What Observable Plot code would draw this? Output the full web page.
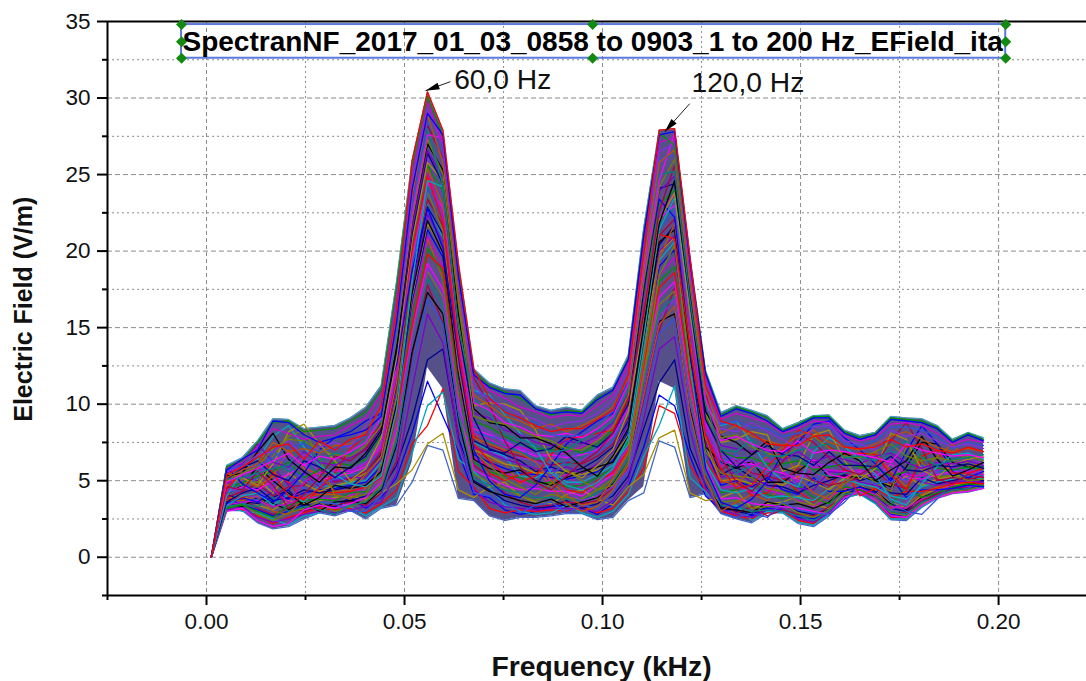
<!DOCTYPE html>
<html>
<head>
<meta charset="utf-8">
<style>html,body{margin:0;padding:0;background:#fff}</style>
<script src="https://cdn.jsdelivr.net/npm/d3@7"></script>
<script src="https://cdn.jsdelivr.net/npm/@observablehq/plot@0.6"></script>
</head>
<body>
<div id="chart"></div>
<script>
const freq=[0.0012,0.0051,0.0090,0.0129,0.0168,0.0207,0.0246,0.0285,0.0324,0.0363,0.0402,
0.0441,0.0480,0.0519,0.0558,0.0597,0.0636,0.0675,0.0714,0.0753,0.0792,
0.0831,0.0870,0.0909,0.0948,0.0987,0.1026,0.1065,0.1104,0.1143,0.1182,
0.1221,0.1260,0.1299,0.1338,0.1377,0.1416,0.1455,0.1494,0.1533,0.1572,
0.1611,0.1650,0.1689,0.1728,0.1767,0.1806,0.1845,0.1884,0.1923,0.1962];

const upperEnvelope=[0,6.0,6.5,7.6,9.05,9.0,8.4,8.5,8.6,9.1,9.8, 11.2,18.0,25.9,30.4,27.9,19.2,12.3,11.4,11.0,10.9, 9.9,9.6,9.8,9.6,10.6,11.1,13.2,21.5,27.9,28.0, 19.6,12.2,9.45,9.9,9.6,9.25,8.4,8.8,9.25,9.3, 8.3,7.95,8.15,9.2,9.1,9.05,8.6,7.7,8.15,7.8];
const denseLower=[0,3.05,3.05,2.25,1.85,2.0,2.5,2.9,2.7,3.05,2.5, 3.2,3.4,6.2,12.4,11.0,3.85,3.7,2.7,2.4,2.6, 2.6,2.7,2.85,2.85,2.45,2.6,3.7,4.6,11.5,11.0, 3.9,4.15,2.85,2.5,2.25,2.9,2.9,2.2,2.0,2.7, 3.85,4.15,3.5,2.45,2.4,3.25,3.85,4.15,4.25,4.5];
const lowerEnvelope=[0,3.05,3.05,2.25,1.85,2.0,2.5,2.9,2.7,3.05,2.5, 3.2,3.4,4.9,7.3,7.0,3.85,3.7,2.7,2.4,2.6, 2.6,2.7,2.85,2.85,2.45,2.6,3.7,4.2,7.6,7.2, 3.9,4.15,2.85,2.5,2.25,2.9,2.9,2.2,2.0,2.7, 3.85,4.15,3.5,2.45,2.4,3.25,3.85,4.15,4.25,4.5];

const s01=[0,5.8,6.2,7.2,8.4,8.1,7.7,7.9,8.0,8.6,9.1, 10.6,17.4,25.1,29.8,27.0,18.6,12.0,10.9,10.4,9.8, 9.5,9.1,9.3,9.2,9.9,10.6,12.6,20.8,27.1,27.4, 19.0,11.8,9.0,9.4,9.1,8.8,8.1,8.4,8.9,8.8, 7.9,7.6,7.8,8.7,8.8,8.6,8.1,7.4,7.7,7.5];
const s02=[0,5.2,5.7,6.1,7.5,6.9,7.1,6.8,7.3,7.4,8.2, 9.7,15.8,23.6,28.9,25.8,17.2,10.6,9.9,9.2,8.9, 8.4,8.7,8.2,8.6,9.1,9.8,11.7,19.3,25.8,26.6, 18.1,10.9,8.1,8.6,7.9,7.6,7.3,7.9,8.3,7.5, 7.2,7.0,7.4,7.9,8.2,7.7,7.2,6.9,7.1,6.9];
const s03=[0,5.6,5.9,6.7,6.9,7.6,6.6,7.2,7.5,7.2,8.6, 10.0,16.6,24.4,29.3,26.9,18.0,11.2,10.2,9.9,9.3, 9.0,8.5,8.8,8.9,9.4,10.3,12.2,20.0,26.5,27.0, 18.6,11.4,8.4,8.2,8.8,8.2,7.7,7.1,8.5,8.6, 7.6,7.4,7.0,8.3,7.9,8.1,7.6,7.2,7.4,7.1];
const s04=[0,4.9,5.4,5.8,6.3,6.8,6.0,6.6,6.4,6.9,7.5, 9.1,14.9,22.4,27.6,27.4,19.0,10.1,9.6,8.8,8.5, 8.0,7.9,8.1,7.8,8.4,9.2,11.3,18.7,24.6,27.7, 19.4,10.4,7.6,7.9,7.4,7.0,6.9,7.6,6.8,7.0, 6.9,6.7,6.5,6.2,7.4,7.0,6.8,6.6,6.7,6.5];
const s05=[0,5.5,6.1,7.4,6.2,5.9,6.9,6.2,6.0,6.5,7.0, 8.5,14.0,21.4,26.6,24.8,16.4,9.4,9.1,8.3,8.0, 7.5,7.3,7.6,7.4,7.9,8.8,10.7,17.9,23.9,24.9, 17.2,9.7,7.3,7.1,6.9,7.0,6.3,6.9,6.2,6.6, 6.4,6.1,6.6,6.8,6.2,5.8,6.2,6.1,6.3,6.0];
const s06=[0,4.5,4.9,5.3,5.6,6.2,5.2,5.7,6.2,6.0,6.4, 8.0,13.2,20.5,25.6,23.9,15.5,8.9,8.5,7.9,7.4, 7.1,7.0,7.2,6.8,7.4,8.3,10.2,17.0,23.0,24.0, 16.3,9.2,6.9,6.5,6.5,6.1,6.1,6.3,5.7,5.9, 6.1,5.9,5.8,5.3,5.6,6.7,5.8,5.7,5.9,5.7];
const s07=[0,4.2,4.6,4.4,5.0,5.4,6.1,5.0,5.3,5.5,5.9, 7.4,12.4,19.4,24.5,22.8,14.6,8.4,8.0,7.6,7.0, 6.6,6.7,6.5,6.7,7.0,7.9,9.7,16.3,22.1,23.0, 15.5,8.8,6.4,6.0,6.1,5.7,5.5,5.1,6.4,5.4, 5.2,5.6,5.2,6.1,5.2,5.1,5.4,5.6,5.5,5.8];
const s08=[0,3.9,4.3,4.8,4.0,4.6,4.7,5.8,4.9,5.1,5.6, 6.9,11.6,18.5,23.4,21.7,13.6,7.9,7.3,6.9,6.6, 6.4,6.0,6.2,6.1,6.6,7.4,9.2,15.5,21.0,22.1, 14.6,8.1,5.7,6.3,5.5,5.3,5.0,5.8,5.0,4.7, 4.9,5.2,5.6,4.8,4.5,6.3,5.0,5.2,5.1,5.3];
const s09=[0,4.8,5.3,5.0,5.9,4.7,5.5,4.6,5.0,5.2,5.2, 6.4,10.8,17.6,22.4,20.6,12.7,7.2,6.8,6.4,6.1, 5.8,5.6,5.9,5.5,6.1,6.9,8.7,14.7,20.0,21.0, 13.8,7.5,5.2,5.6,4.9,4.8,5.4,4.5,4.4,5.6, 5.5,4.9,4.7,4.4,5.6,4.9,4.7,4.9,5.0,4.9];
const s10=[0,3.5,3.9,3.6,4.3,3.8,4.2,4.4,4.5,4.7,4.9, 5.9,10.0,16.7,21.4,19.6,11.9,6.7,6.2,5.8,5.5, 5.4,5.2,5.1,5.3,5.6,6.3,8.2,13.8,19.0,20.1, 12.9,7.0,4.7,5.0,4.6,5.2,4.4,4.1,5.2,4.3, 4.3,4.6,4.2,5.2,3.9,4.4,4.4,4.5,4.7,4.6];
const s11=[0,3.2,3.4,3.0,2.6,3.4,3.7,3.8,3.7,4.2,4.3, 5.4,9.2,15.8,20.2,18.6,11.0,6.2,5.6,5.3,5.2, 4.8,4.9,4.6,4.7,5.2,5.8,7.6,13.0,18.0,19.0, 12.0,6.5,4.2,4.4,5.0,4.1,3.8,4.7,3.9,3.5, 4.6,4.4,4.0,3.4,4.7,3.9,4.2,4.6,4.8,4.7];
const s12=[0,3.0,3.2,2.4,2.0,2.2,3.1,3.4,3.2,3.5,3.9, 4.9,8.4,14.9,19.2,17.5,10.2,5.7,5.2,4.7,4.4, 4.5,4.3,4.3,4.0,4.7,5.4,7.1,12.2,17.0,18.0, 11.2,6.0,3.8,3.9,3.5,3.4,3.3,3.2,3.0,2.8, 3.9,4.3,3.7,2.7,2.6,3.4,3.9,4.2,4.3,4.5];
const s13=[0,3.3,3.5,3.3,3.9,3.0,3.3,3.1,2.8,3.4,3.6, 4.5,7.6,14.0,18.2,16.4,9.4,5.1,4.7,4.4,4.2, 3.9,3.9,3.8,3.7,4.2,4.9,6.5,11.4,16.0,17.0, 10.4,5.5,3.4,3.3,3.0,3.1,3.0,2.7,2.4,3.0, 4.1,4.2,3.6,3.0,2.8,3.6,4.0,4.4,4.5,4.9];
const s14=[0,3.1,3.3,2.6,2.3,2.5,2.8,3.0,2.9,3.1,3.3, 3.6,5.5,11.0,15.9,14.0,7.6,4.4,3.6,3.3,3.2, 3.1,3.2,3.2,3.1,3.0,3.7,5.0,9.0,13.6,14.4, 8.3,4.5,3.1,2.8,2.6,3.1,3.2,2.5,2.3,2.9, 4.0,4.3,3.7,2.7,2.6,3.5,4.0,4.3,4.4,4.7];
const s15=[0,4.0,5.6,6.4,7.9,8.6,7.2,6.0,5.4,4.8,4.6, 5.3,9.6,17.9,24.6,24.2,16.8,10.9,10.6,9.3,8.1, 7.1,5.5,4.7,4.4,4.9,5.8,7.8,14.4,21.4,23.5, 15.8,9.9,8.6,8.9,7.4,5.9,5.0,4.6,6.9,7.8, 7.2,6.4,5.4,3.8,3.4,4.8,5.9,6.7,6.8,6.4];
const s16=[0,5.9,4.8,4.2,3.6,4.4,5.5,7.0,7.8,8.2,8.9, 9.4,12.6,18.7,22.8,20.2,13.1,7.0,5.0,4.1,3.9, 4.7,6.0,7.4,8.2,8.9,9.4,11.6,17.8,23.4,22.2, 13.4,5.8,3.6,3.2,3.8,5.0,6.8,7.5,8.7,8.9, 7.8,7.0,6.1,5.0,6.9,8.6,7.4,5.6,5.2,5.6];
const s17=[0,4.6,4.4,5.6,4.7,3.2,4.1,5.2,6.6,6.3,7.1, 8.8,15.2,23.3,28.2,26.1,17.7,11.7,10.0,7.6,5.9, 4.9,4.4,5.3,6.2,6.9,8.1,10.3,15.9,22.6,25.6, 18.0,10.8,6.5,4.9,4.3,5.4,6.2,8.0,7.5,6.5, 5.7,5.4,6.0,7.6,8.8,7.1,5.1,4.8,5.4,5.2];
const s18=[0,5.0,5.0,4.6,5.3,7.0,5.8,5.4,4.3,4.4,5.4, 6.6,11.4,19.8,25.4,23.0,14.3,7.8,7.4,7.0,6.8, 6.2,5.0,4.0,3.4,3.6,5.1,6.9,12.8,19.5,21.8, 14.1,7.8,5.0,4.7,5.8,6.6,7.2,5.2,4.2,3.8, 5.0,5.8,6.9,5.6,4.6,5.6,6.6,7.4,6.1,5.5];
const s19=[0,3.7,3.7,4.0,3.0,2.8,3.9,4.1,4.1,3.8,4.5, 5.0,8.9,16.2,20.8,18.2,10.6,8.3,6.4,6.1,4.8, 5.9,4.6,3.5,3.0,3.3,4.4,6.0,10.6,15.2,16.4, 9.4,5.1,3.0,3.6,4.1,3.7,4.7,6.0,5.6,5.1, 4.4,5.0,4.4,3.2,3.5,4.1,4.6,5.0,5.9,6.2];
const s20=[0,4.4,3.6,3.8,4.8,5.2,4.5,3.6,3.5,3.0,3.0, 4.0,7.0,12.4,16.9,15.2,8.6,4.2,4.0,3.6,2.9, 3.4,3.6,2.9,3.4,3.2,4.2,5.6,9.9,14.6,15.6, 9.0,4.9,2.9,2.6,2.9,2.6,3.6,3.1,2.9,2.8, 3.6,4.7,5.2,3.6,3.0,2.8,3.8,4.9,5.2,4.6];
const s21=[0,3.4,3.0,2.9,2.5,2.1,2.7,2.9,3.6,3.3,2.7, 3.3,3.9,6.8,9.9,10.8,6.4,5.6,4.6,3.4,3.0, 2.8,2.9,3.4,2.9,2.6,3.0,4.1,6.6,8.6,11.2, 5.2,4.3,3.3,3.4,2.4,3.0,2.9,2.3,2.1,2.8, 3.9,4.1,3.5,2.5,2.5,3.3,3.9,4.2,4.3,4.6];
const s22=[0,3.8,4.1,3.4,3.1,3.7,3.5,3.7,3.9,4.0,3.8, 4.2,4.8,5.7,7.4,8.1,4.4,3.9,4.6,4.9,4.0, 3.6,3.5,4.1,4.4,3.8,3.4,4.6,5.4,7.8,8.3, 4.2,3.7,3.9,4.3,3.2,3.5,3.6,4.0,3.4,3.2, 4.2,4.7,4.2,3.6,3.2,4.0,4.5,4.7,4.9,5.0];
const s23=[0,5.3,5.5,6.9,8.1,6.4,5.6,4.9,5.9,5.8,6.8, 8.3,13.7,21.9,27.0,25.3,15.9,9.7,8.8,8.6,7.8, 7.8,7.4,6.8,5.9,5.3,6.6,8.4,15.1,21.8,24.6, 17.0,9.5,7.9,7.5,6.7,7.6,5.8,5.5,5.4,6.2, 6.8,6.3,5.0,5.7,6.3,7.9,6.4,5.3,5.7,6.2];
const s24=[0,4.7,5.1,4.9,6.6,7.9,8.3,6.5,4.0,3.9,4.1, 6.0,10.4,18.2,23.9,21.3,12.4,6.9,6.0,5.1,4.6, 4.1,4.8,5.7,5.0,4.4,4.7,6.2,11.8,18.4,20.4, 12.6,6.9,5.5,5.3,5.2,4.5,4.3,3.6,3.4,4.1, 4.8,5.5,4.9,4.3,7.2,6.2,5.2,5.4,5.0,5.1];
const s25=[0,4.1,4.7,5.9,5.0,4.2,3.4,3.9,4.7,4.5,4.7, 5.6,10.1,17.2,22.0,19.9,12.1,6.4,5.8,5.5,5.7, 5.0,4.7,5.2,5.6,5.9,6.2,7.9,14.2,20.6,21.4, 13.0,7.2,6.2,5.8,6.3,4.9,4.9,5.6,6.4,5.2, 5.3,5.2,5.0,4.6,5.9,7.5,7.4,6.2,5.9,5.9];
const s26=[0,5.7,6.4,7.0,8.9,8.8,8.0,7.5,7.8,8.0,8.3, 9.2,15.4,24.0,29.0,27.6,18.4,11.9,11.1,10.7,10.6, 9.7,9.4,9.5,9.4,10.3,10.9,12.9,21.0,27.6,27.8, 19.3,12.0,9.2,9.7,9.4,8.9,8.2,8.6,9.1,9.1, 8.1,7.7,8.0,9.0,8.9,8.8,8.4,7.5,8.0,7.6];
const s27=[0,3.6,3.8,3.2,2.8,3.2,3.0,3.3,3.4,3.6,3.4, 4.2,6.3,13.2,17.8,15.3,8.2,6.0,5.3,4.2,3.6, 3.3,3.4,3.6,3.5,3.7,4.5,5.9,10.2,14.8,17.6, 10.8,5.3,3.5,2.9,3.3,2.7,3.1,2.8,2.7,3.3, 4.0,4.4,3.9,2.9,2.9,3.7,4.1,4.5,4.6,4.9];
const s28=[0,4.3,5.8,6.0,4.4,3.6,4.9,5.5,5.7,5.6,6.1, 7.1,12.1,20.1,25.1,22.4,13.9,8.1,7.7,7.2,7.2, 6.9,6.4,6.9,7.2,7.7,8.6,9.9,16.8,22.8,23.6, 15.1,8.5,5.9,6.6,5.9,6.4,5.6,4.9,5.9,5.7, 5.6,5.7,5.5,6.4,5.4,5.3,5.7,5.9,5.6,5.4];
const s29=[0,3.4,4.0,4.2,3.4,4.1,3.6,4.7,4.6,4.9,5.0, 6.2,10.9,18.9,23.0,20.9,13.4,7.5,7.0,6.6,5.3, 5.2,5.7,4.9,4.9,5.4,6.0,7.4,13.5,19.4,20.6, 12.3,6.2,4.4,4.2,4.5,3.9,4.0,3.9,3.7,4.5, 5.1,4.8,4.6,4.0,3.8,4.6,4.9,5.1,5.3,5.1];
const s30=[0,5.1,5.2,5.5,5.8,6.0,7.6,6.3,6.8,6.7,7.7, 8.9,14.5,22.9,28.0,24.3,15.0,10.3,9.4,8.0,7.7, 7.3,6.9,7.0,7.7,8.2,8.9,11.0,18.9,25.0,25.2, 16.8,10.0,7.0,6.9,7.7,6.6,6.6,7.0,7.2,7.4, 6.5,6.6,6.3,7.1,7.6,6.5,6.0,6.4,6.5,6.7];
const s31=[0,5.4,5.9,6.5,7.2,7.4,6.4,7.6,7.0,7.7,8.0, 9.9,16.2,25.9,30.4,27.9,19.2,12.3,10.4,9.5,9.1, 8.6,8.2,8.4,8.4,9.0,9.6,11.9,19.9,27.9,28.0, 19.6,11.2,8.9,8.6,8.1,7.4,7.3,7.3,7.9,8.0, 7.2,7.1,7.2,7.7,7.2,7.4,7.0,6.8,7.2,6.9];
const s32=[0,5.9,6.3,7.5,8.8,8.9,8.2,8.3,8.4,8.9,9.5, 10.9,17.7,25.5,30.1,27.5,18.9,12.1,11.2,10.8,10.4, 9.7,9.3,9.6,9.5,10.4,10.9,13.0,21.2,27.7,26.9, 19.4,12.1,9.3,9.8,9.5,9.1,8.3,8.7,9.2,9.2, 8.2,7.8,8.1,9.1,9.0,8.9,8.5,7.6,8.1,7.7];
const s33=[0,5.0,5.5,5.9,7.1,7.7,7.6,7.0,6.7,6.6,7.3, 8.6,14.3,22.0,27.3,25.0,16.6,9.2,8.9,8.7,8.3, 7.9,7.6,7.1,7.0,7.6,8.5,10.6,18.0,24.2,26.0, 17.9,10.2,7.8,8.0,7.2,6.8,6.5,7.2,7.9,7.1, 6.6,6.5,6.9,7.4,6.6,6.3,6.5,6.3,6.6,6.3];
const s34=[0,4.4,5.0,5.5,6.0,6.6,5.4,5.1,5.6,5.7,6.2, 7.7,12.9,20.9,26.1,23.5,15.1,8.7,8.2,7.4,7.1, 6.7,6.5,6.6,6.3,7.1,8.0,9.9,16.6,22.4,23.3, 15.0,8.6,6.6,6.2,6.3,5.5,5.2,5.4,6.0,6.1, 5.9,5.5,5.4,5.7,4.9,5.5,5.5,5.4,5.7,5.6];
const s35=[0,3.6,4.2,4.5,3.7,3.9,4.4,4.2,4.4,4.6,5.4, 6.7,11.2,18.0,22.9,21.1,13.2,7.6,7.1,6.7,6.3, 5.6,5.9,5.5,5.8,6.4,7.2,8.9,15.0,20.4,21.7, 14.2,7.7,5.4,5.9,5.2,4.7,4.6,4.2,4.7,5.0, 5.4,5.0,5.3,4.2,4.1,5.2,4.8,5.0,5.2,5.0];
const s36=[0,3.4,3.6,3.7,3.3,3.5,3.9,3.9,3.8,4.0,4.7, 5.7,9.7,16.0,21.0,19.0,11.4,6.5,5.9,5.6,5.0, 4.6,5.1,5.4,4.5,4.9,5.6,7.4,13.3,18.4,19.6, 12.4,6.7,4.5,4.7,4.2,4.4,4.1,3.7,3.3,3.9, 4.5,4.5,4.1,3.3,3.2,3.8,4.3,4.7,4.6,4.8];
const s37=[0,3.2,3.5,2.8,2.4,2.9,3.2,3.6,3.0,3.3,3.7, 4.7,8.1,14.5,18.7,17.0,9.9,5.4,4.9,4.5,4.0, 3.7,4.1,3.9,3.8,4.4,5.1,6.8,11.9,16.5,17.4, 10.7,5.7,3.6,3.7,3.2,3.3,3.5,2.9,2.6,3.1, 4.2,4.2,3.8,2.9,2.7,3.5,3.9,4.3,4.4,4.7];
const s38=[0,4.2,4.5,5.2,7.0,6.0,5.0,4.8,5.1,5.3,5.7, 7.2,12.0,19.0,24.0,22.2,14.1,8.2,7.9,7.7,7.4, 6.0,5.3,6.3,6.9,6.8,7.6,9.4,15.8,21.5,22.6, 15.2,8.3,6.1,6.7,5.7,6.9,5.8,4.7,4.8,6.0, 6.2,5.3,4.8,5.0,5.1,6.0,5.6,5.8,5.4,5.3];
const s39=[0,5.1,5.8,6.3,5.4,5.0,6.3,5.9,5.2,5.9,6.6, 8.1,13.5,21.1,26.4,24.4,14.9,9.1,7.0,6.8,7.5, 6.9,7.1,7.9,7.5,7.2,8.1,10.0,17.4,24.1,24.4, 16.6,9.0,7.0,5.9,6.7,7.3,6.7,6.6,6.0,6.9, 6.0,6.0,5.9,6.6,5.7,5.6,6.0,5.9,6.1,5.8];
const s40=[0,3.8,3.9,4.3,5.5,4.9,3.7,4.3,4.2,4.3,4.6, 5.2,9.4,15.1,19.8,18.9,12.0,7.3,5.5,5.0,5.4, 5.6,5.4,4.4,4.2,5.0,5.5,7.0,12.6,17.6,18.6, 11.6,6.3,4.9,5.2,4.0,4.2,5.2,4.3,3.6,4.6, 5.8,4.0,4.5,3.9,4.3,4.3,4.5,4.8,4.9,4.8];
const s41=[0,4.1,3.7,3.5,3.9,4.4,3.2,3.5,3.3,3.7,4.0, 4.4,6.0,9.0,12.9,13.6,7.8,5.0,4.4,3.7,3.4, 3.2,3.3,3.7,3.2,3.5,4.0,5.3,8.4,11.4,12.9, 7.1,4.7,3.3,3.0,2.8,3.3,3.4,3.0,2.8,3.1, 4.1,4.5,3.9,3.2,3.0,3.6,4.2,4.4,4.6,4.8];
const s42=[0,3.3,3.1,2.7,2.2,2.6,2.9,3.2,3.1,3.2,2.9, 3.5,4.4,7.4,8.6,11.0,5.6,4.6,3.2,2.9,3.1, 3.0,3.1,3.0,3.3,2.9,3.2,4.3,5.8,9.9,9.4, 6.0,4.4,3.0,2.7,2.5,2.9,3.0,2.4,2.2,3.0, 3.9,4.2,3.6,2.6,2.5,3.4,3.9,4.2,4.3,4.6];
const s43=[0,3.9,3.4,3.1,2.7,3.0,3.4,3.4,3.3,3.9,3.2, 3.9,5.2,8.1,11.5,9.2,6.9,4.1,3.9,3.1,2.8, 3.0,3.3,3.4,3.2,2.8,3.5,4.6,7.2,10.6,9.9, 6.6,4.0,3.1,3.1,2.7,3.2,3.1,2.6,2.5,2.9, 3.8,4.4,3.6,2.8,2.7,3.5,4.0,4.3,4.5,4.7];
const s44=[0,5.5,5.2,4.7,6.1,8.2,8.7,7.4,6.3,5.0,5.8, 7.8,13.0,20.7,25.8,24.6,15.7,9.9,10.1,10.0,9.6, 8.3,6.4,5.6,5.2,6.0,7.0,9.5,15.3,22.0,23.8, 16.0,9.4,7.5,7.7,8.2,8.0,5.6,6.0,8.0,8.3, 6.3,5.1,5.8,8.1,7.7,5.7,5.2,6.1,6.4,6.6];
const s45=[0,4.5,5.6,6.8,5.5,4.0,3.8,4.5,5.5,7.1,7.9, 8.4,13.9,20.0,24.9,21.9,13.5,7.4,6.3,5.4,4.9, 5.3,6.7,7.7,7.9,8.1,8.3,10.5,16.1,21.1,20.8, 13.7,8.0,5.8,4.5,4.7,5.9,7.0,8.3,8.0,7.2, 6.7,6.8,6.7,5.4,4.4,6.6,7.0,5.5,5.5,5.8];
const s46=[0,4.7,4.1,3.9,4.5,5.7,6.6,5.6,4.8,4.1,4.4, 5.1,8.7,14.2,18.9,17.2,9.7,6.6,6.9,6.5,6.5, 6.3,5.8,4.2,3.7,4.0,4.6,5.7,11.0,15.6,16.9, 10.0,6.0,6.8,6.4,5.6,4.6,4.5,5.0,5.5,4.9, 5.0,4.1,3.9,3.1,3.6,5.4,6.1,6.0,6.5,6.1];
const s47=[0,3.5,3.3,3.9,3.5,3.1,3.6,3.0,3.6,3.7,3.5, 4.4,7.3,13.4,17.3,15.9,8.9,4.9,4.3,4.0,3.7, 3.5,3.8,3.3,3.6,3.9,4.8,6.2,10.9,15.4,15.9, 9.7,4.9,3.2,3.1,2.9,3.6,3.4,3.5,3.2,3.6, 4.4,4.6,4.3,3.5,3.1,3.9,4.3,4.6,4.7,5.0];
const s48=[0,4.0,4.8,5.1,4.2,5.5,4.8,4.3,4.7,4.9,5.5, 6.5,10.6,17.0,21.8,20.0,12.9,7.0,6.6,6.1,5.9, 5.5,5.5,5.6,5.4,5.7,6.5,8.0,14.0,19.9,20.9, 13.3,7.3,5.0,5.1,4.8,5.0,4.7,5.3,4.9,4.4, 5.2,5.4,5.0,4.7,5.3,4.7,5.1,5.3,5.4,5.2];
const s49=[0,5.7,6.0,6.0,6.5,7.2,7.4,6.9,7.1,7.3,7.9, 9.4,15.0,23.0,28.5,26.4,17.4,10.8,10.5,9.6,9.0, 8.8,8.0,7.9,8.0,8.7,9.5,11.6,19.6,26.0,26.3, 18.4,11.0,8.7,8.9,8.5,8.4,7.9,8.1,8.6,8.5, 7.4,7.3,7.6,8.5,8.5,8.3,7.9,7.1,7.5,7.3];
const s50=[0,4.6,4.7,5.7,6.4,5.6,6.3,5.3,5.5,5.4,6.3, 7.6,12.7,19.9,24.2,23.2,14.9,8.6,7.5,7.3,6.9, 6.4,6.6,6.0,6.5,7.3,7.8,9.3,16.5,21.7,22.9, 14.8,8.2,6.7,5.5,6.0,5.6,5.9,6.6,5.6,5.3, 5.5,5.8,5.5,6.9,6.7,5.0,5.5,5.7,5.8,5.9];

const curves=[upperEnvelope,lowerEnvelope,s43,s42,s21,s22,s41,s14,s27,s47,s37,s13,s12,s20,s19,s46,s36,s11,s10,s40,s29,s48,s35,s09,s08,s25,s24,s50,s07,s38,s18,s34,s28,s06,s16,s45,s15,s44,s39,s05,s17,s23,s33,s30,s04,s49,s02,s03,s01,s32,s26,s31];
const edgeColors=["#4a9ec0","#4468c8"];
const palette=["#d400d4","#009000","#0000ff","#ff0000","#00a8c0","#a89000","#000090","#8000d0","#b00040","#000000","#708000","#008080","#ff00ff","#3050e0","#c05000","#8a2be2"];

const band=freq.map((f,i)=>({f,lo:denseLower[i],hi:upperEnvelope[i]}));
const rows=curves.flatMap((c,j)=>c.map((v,i)=>({f:freq[i],v,j,color:j<2?edgeColors[j]:palette[j%palette.length]})));

const xMajor=[0,0.05,0.10,0.15,0.20];
const xMinor=[-0.025,0.025,0.075,0.125,0.175];
const yMajor=[0,5,10,15,20,25,30,35];
const yMinor=[-2.5,2.5,7.5,12.5,17.5,22.5,27.5,32.5];

const peakLabels=[{t:"60,0 Hz",x:0.0748,y:31.2},{t:"120,0 Hz",x:0.1367,y:30.97}];
const arrows=[{x1:0.0616,y1:31.07,x2:0.0553,y2:30.48,rot:-109.8},{x1:0.122,y1:29.63,x2:0.1157,y2:27.8,rot:-138.2}];
const titleText="SpectranNF_2017_01_03_0858 to 0903_1 to 200 Hz_EField_ita";
const titleBox={x1:-0.0063,x2:0.2018,y1:32.6,y2:34.8};
const handles=[[-0.0063,34.8],[0.0975,34.8],[0.2018,34.8],[-0.0063,33.68],[0.2018,33.68],[-0.0063,32.6],[0.0975,32.6],[0.2018,32.6]];

const headShape={draw(c,l,r){c.moveTo(0,-l);c.lineTo(r,0);c.lineTo(-r,0);c.closePath();}};

const chart=Plot.plot({
  width:1086,height:681,
  marginLeft:107,marginRight:0,marginTop:21,marginBottom:86,
  style:{fontFamily:"'Liberation Sans',Arial,sans-serif",background:"#fff",overflow:"visible"},
  x:{domain:[-0.025,0.2222],axis:null},
  y:{domain:[-2.5,35],axis:null},
  color:{type:"identity"},
  marks:[
    Plot.ruleX(xMajor,{x:d=>d,stroke:"#8c8c8c",strokeWidth:1,strokeDasharray:"4 3"}),
    Plot.ruleX(xMinor.slice(1),{x:d=>d,stroke:"#8c8c8c",strokeWidth:1,strokeDasharray:"2 3"}),
    Plot.ruleY(yMajor.slice(1,-1).concat([0]),{y:d=>d,stroke:"#8c8c8c",strokeWidth:1,strokeDasharray:"5 3"}),
    Plot.ruleY(yMinor.slice(1),{y:d=>d,stroke:"#8c8c8c",strokeWidth:1,strokeDasharray:"2 3"}),
    Plot.areaY(band,{x:"f",y1:"lo",y2:"hi",fill:"#56508a"}),
    Plot.line(rows,{x:"f",y:"v",z:"j",stroke:"color",strokeWidth:1.3,curve:"linear"}),
    Plot.axisX({ticks:xMajor,tickSize:10,tickPadding:8,tickFormat:d3.format(".2f"),fontSize:22.5,stroke:"#000",strokeWidth:2,fill:"#111",label:null}),
    Plot.axisX({ticks:xMinor,tickSize:5,tickFormat:()=>"",stroke:"#000",strokeWidth:2,label:null}),
    Plot.axisY({ticks:yMajor,tickSize:10,tickPadding:7,fontSize:22.5,stroke:"#000",strokeWidth:2,fill:"#111",label:null}),
    Plot.axisY({ticks:yMinor,tickSize:5,tickFormat:()=>"",stroke:"#000",strokeWidth:2,label:null}),
    Plot.ruleX([-0.025],{stroke:"#000",strokeWidth:2}),
    Plot.ruleY([-2.5,35],{stroke:"#000",strokeWidth:2}),
    Plot.rect([titleBox],{x1:"x1",x2:"x2",y1:"y1",y2:"y2",fill:"none",stroke:"#5a78e0",strokeWidth:2}),
    Plot.dot(handles,{x:d=>d[0],y:d=>d[1],symbol:"diamond2",r:5,stroke:"none",fill:"#128a12"}),
    Plot.text([titleText],{x:()=>0.0975,y:()=>33.68,text:d=>d,fontSize:28,fontWeight:"bold",fill:"#000"}),
    Plot.link(arrows,{x1:"x1",y1:"y1",x2:"x2",y2:"y2",stroke:"#222",strokeWidth:1}),
    Plot.vector(arrows,{x:"x2",y:"y2",rotate:"rot",length:14,anchor:"end",shape:headShape,r:3.5,fill:"#000",stroke:"none"}),
    Plot.text(peakLabels,{x:"x",y:"y",text:"t",fontSize:28.2,fill:"#111"}),
    Plot.text(["Frequency (kHz)"],{x:()=>0.09975,y:()=>-7.14,text:d=>d,fontSize:28.3,fontWeight:"bold",fill:"#111"}),
    Plot.text(["Electric Field (V/m)"],{x:()=>-0.046,y:()=>16.2,text:d=>d,rotate:-90,fontSize:25,fontWeight:"bold",fill:"#111"})
  ]
});
document.getElementById("chart").appendChild(chart);
</script>
</body>
</html>
